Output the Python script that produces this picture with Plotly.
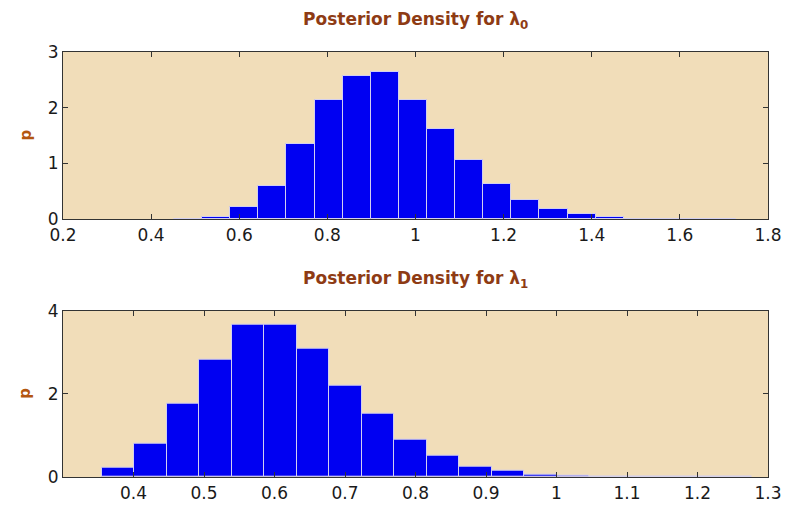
import plotly.graph_objects as go
from plotly.subplots import make_subplots

# ---- data ----
# lambda_0 histogram: 20 bins
lam0_first_edge = 0.452
lam0_bin_width = 0.0638
lam0_density = [0.005, 0.036, 0.216, 0.587, 1.353, 2.144, 2.575, 2.635, 2.144, 1.617,
                1.06, 0.629, 0.335, 0.186, 0.096, 0.036, 0.006, 0.004, 0.003, 0.003]

# lambda_1 histogram: 20 bins
lam1_first_edge = 0.355
lam1_bin_width = 0.0461
lam1_density = [0.232, 0.794, 1.764, 2.822, 3.671, 3.671, 3.094, 2.196, 1.531, 0.906,
                0.513, 0.240, 0.160, 0.048, 0.040, 0.006, 0.004, 0.003, 0.002, 0.002]

top_xticks = [0.2, 0.4, 0.6, 0.8, 1.0, 1.2, 1.4, 1.6, 1.8]
top_xlabels = ["0.2", "0.4", "0.6", "0.8", "1", "1.2", "1.4", "1.6", "1.8"]
top_yticks = [0, 1, 2, 3]
bot_xticks = [0.4, 0.5, 0.6, 0.7, 0.8, 0.9, 1.0, 1.1, 1.2, 1.3]
bot_xlabels = ["0.4", "0.5", "0.6", "0.7", "0.8", "0.9", "1", "1.1", "1.2", "1.3"]
bot_yticks = [0, 2, 4]

titles = ["Posterior Density for λ<sub>0</sub>", "Posterior Density for λ<sub>1</sub>"]

# ---- figure ----
W, H = 788, 507
ml, mr, mt, mb = 63, 20, 52, 30
bg = "#F1DDB9"
bar_col = "#0000F2"
edge_col = "#D2CFF0"
title_col = "#8E3B14"
ylab_col = "#B3560F"
axis_col = "#333333"

fig = make_subplots(rows=2, cols=1)


def centers(first, width, n):
    return [first + width * (i + 0.5) for i in range(n)]


fig.add_trace(go.Bar(x=centers(lam0_first_edge, lam0_bin_width, len(lam0_density)),
                     y=lam0_density, width=lam0_bin_width,
                     marker=dict(color=bar_col, line=dict(color=edge_col, width=1)),
                     showlegend=False, hoverinfo="skip"), row=1, col=1)
fig.add_trace(go.Bar(x=centers(lam1_first_edge, lam1_bin_width, len(lam1_density)),
                     y=lam1_density, width=lam1_bin_width,
                     marker=dict(color=bar_col, line=dict(color=edge_col, width=1)),
                     showlegend=False, hoverinfo="skip"), row=2, col=1)

ph = H - mt - mb
top_dom = [1 - (219 - mt) / ph, 1.0]
bot_dom = [0.0, 1 - (310.7 - mt) / ph]

tickfont = dict(family="DejaVu Sans, sans-serif", size=17, color="#1a1a1a")
common_ax = dict(showline=True, linecolor=axis_col, linewidth=1.2, mirror="ticks",
                 ticks="inside", ticklen=5, tickcolor=axis_col, tickwidth=1,
                 showgrid=False, zeroline=False, tickfont=tickfont, automargin=False)

fig.update_layout(
    width=W, height=H,
    margin=dict(l=ml, r=mr, t=mt, b=mb, autoexpand=False),
    paper_bgcolor="white", plot_bgcolor=bg,
    bargap=0,
    xaxis=dict(domain=[0, 1], range=[0.2, 1.8], tickvals=top_xticks, ticktext=top_xlabels, **common_ax),
    yaxis=dict(domain=top_dom, range=[0, 3], tickvals=top_yticks, **common_ax),
    xaxis2=dict(domain=[0, 1], range=[0.3, 1.3], tickvals=bot_xticks, ticktext=bot_xlabels, **common_ax),
    yaxis2=dict(domain=bot_dom, range=[0, 4], tickvals=bot_yticks, **common_ax),
)

title_font = dict(family="DejaVu Sans, sans-serif", size=17, color=title_col)
ylab_font = dict(family="DejaVu Sans, sans-serif", size=15, color=ylab_col)
anns = []
for t, dom in zip(titles, [top_dom, bot_dom]):
    anns.append(dict(text="<b>" + t + "</b>", xref="paper", yref="paper", x=0.5, y=dom[1],
                     yshift=18, xanchor="center", yanchor="bottom", showarrow=False, font=title_font))
    anns.append(dict(text="<b>p</b>", xref="paper", yref="paper", x=(25 - ml) / (W - ml - mr),
                     y=(dom[0] + dom[1]) / 2, xanchor="center", yanchor="middle",
                     textangle=-90, showarrow=False, font=ylab_font))
fig.update_layout(annotations=anns)

fig.write_html("out.html", config={"displayModeBar": False},
               post_script="document.body.style.margin='0px';")
